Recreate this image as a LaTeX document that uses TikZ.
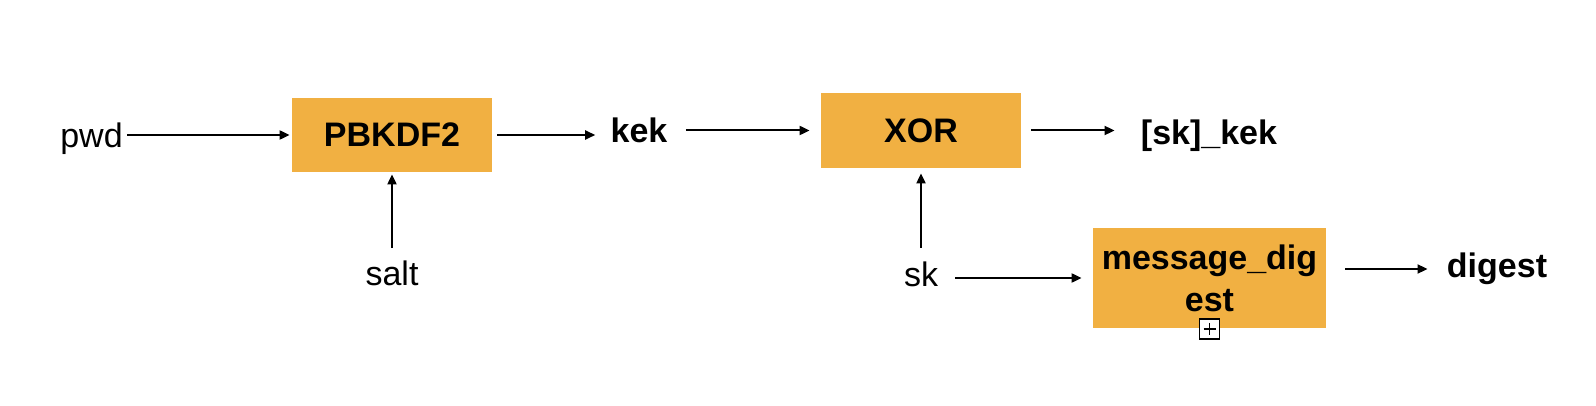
\documentclass[tikz,border=0pt]{standalone}
\usepackage{fontspec}
\setmainfont{Liberation Sans}
\usepackage{xcolor}
\usetikzlibrary{arrows.meta,positioning,calc}
\definecolor{boxorange}{HTML}{F1B042}
\newcommand{\lblfont}{\fontsize{17}{21}\selectfont}

\begin{document}
\begin{tikzpicture}[x=0.5pt,y=-0.5pt,
  block/.style={fill=boxorange,inner sep=0pt,font=\lblfont\bfseries,align=center},
  lbl/.style={inner sep=0pt,text height=12pt,text depth=3pt,font=\lblfont},
  blbl/.style={lbl,font=\lblfont\bfseries},
  flow/.style={-{Triangle[length=5pt,width=4.5pt]},line width=1pt},
  expander/.style={draw,fill=white,minimum size=10pt,inner sep=0pt,line width=0.6pt,
    path picture={\draw[line width=0.6pt]
      ([yshift=-2pt]path picture bounding box.north) -- ([yshift=2pt]path picture bounding box.south)
      ([xshift=2pt]path picture bounding box.west) -- ([xshift=-2pt]path picture bounding box.east);}}]
\useasboundingbox (0,0) rectangle (1596,406);
\node[block,minimum width=100pt,minimum height=37pt](PB) at (392,135) {PBKDF2};
\node[block,minimum width=100pt,minimum height=37.5pt](XOR) at (921,130.5) {XOR};
\node[block,minimum width=116.5pt,minimum height=50pt](MD) at (1209.5,278) {message\_dig\\est};
\node[expander](MDx) at (1209.5,329) {};
\node[lbl](pwd) at (91.5,139) {pwd};
\node[blbl](kek) at (639,133.5) {kek};
\node[blbl](skkek) at (1209,136) {[sk]\_kek};
\node[lbl](salt) at (392,276.5) {salt};
\node[lbl](sk) at (921,278) {sk};
\node[blbl](digest) at (1497,269) {digest};
\draw[flow,shorten <=2pt,shorten >=1pt] (pwd.east |- PB.west) -- (PB.west);
\draw[flow,shorten <=2.5pt,shorten >=7.5pt] (PB.east) -- (PB.east -| kek.west);
\draw[flow,shorten <=9pt,shorten >=5.5pt] (kek.east |- XOR.west) -- (XOR.west);
\draw[flow,shorten <=5pt,shorten >=13pt] (XOR.east) -- (XOR.east -| skkek.west);
\draw[flow,shorten <=6.5pt,shorten >=1pt] (salt.north) -- (PB.south);
\draw[flow,shorten <=7.5pt,shorten >=2.5pt] (sk.north) -- (XOR.south);
\draw[flow,shorten <=8.5pt,shorten >=5.5pt] (sk.east) -- (MD.west);
\draw[flow,shorten <=9.5pt,shorten >=9.5pt] (digest.west -| MD.east) -- (digest.west);
\end{tikzpicture}
\end{document}
